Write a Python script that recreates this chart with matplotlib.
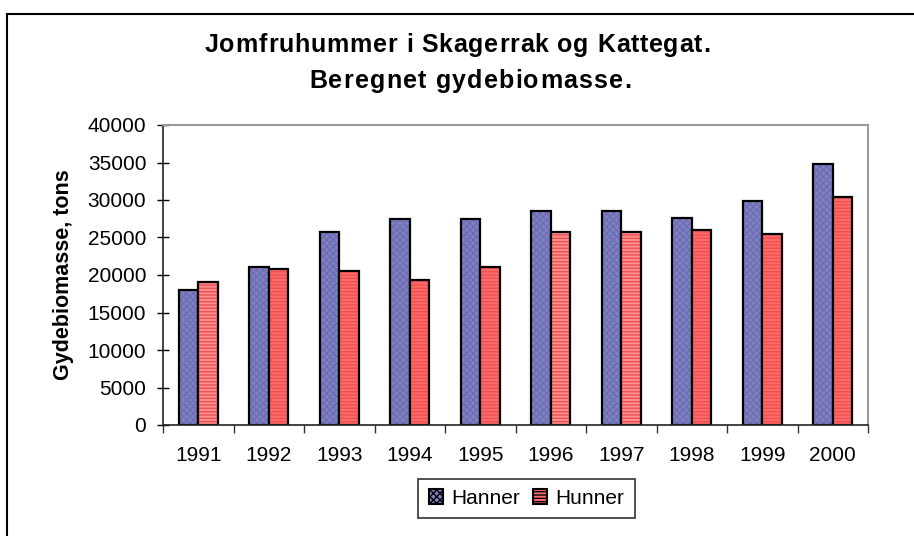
import matplotlib
matplotlib.use('Agg')
import matplotlib.pyplot as plt
import numpy as np
from matplotlib.patches import Patch
from matplotlib.lines import Line2D
from matplotlib.font_manager import FontProperties

plt.rcParams['font.family'] = ['Liberation Sans', 'DejaVu Sans']

# Beregnet gydebiomasse (tons) pr. aar
years = ['1991', '1992', '1993', '1994', '1995', '1996', '1997', '1998', '1999', '2000']
hanner = [18050, 21060, 25670, 27400, 27400, 28470, 28470, 27620, 29840, 34810]
hunner = [19110, 20750, 20480, 19380, 21060, 25670, 25670, 26030, 25450, 30370]

blue = '#8080c4'
blue_hatch = '#6e6eb2'
red = '#ff6b6b'
red_light = '#ff9090'
red_hatch = '#f05050'
# lysere roede soejler for enkelte aar
hunner_fill = [red_light, red, red, red, red, red_light, red_light, red, red, red]

W, H = 914, 536
fig = plt.figure(figsize=(W / 100, H / 100), dpi=100)
ax = fig.add_axes([163 / W, 1 - 425 / H, 705 / W, 300 / H])


def spaced_title(text, x_px, y_px, size, spacing_px):
    # tegn teksten bogstav for bogstav med ekstra afstand, centreret om x_px
    renderer = fig.canvas.get_renderer()
    fp = FontProperties(family='Liberation Sans', weight='bold', size=size)

    def width(s):
        if not s:
            return 0.0
        w, _, _ = renderer.get_text_width_height_descent(s, fp, ismath=False)
        return w

    total = width(text) + spacing_px * (len(text) - 1)
    x0 = x_px - total / 2
    for i, ch in enumerate(text):
        xp = x0 + width(text[:i]) + spacing_px * i
        fig.text(xp / W, 1 - y_px / H, ch, ha='left', va='center', fontproperties=fp)


x = np.arange(len(years))
w = 0.28

# fyld med moenster, derefter sort kant ovenpaa
ax.bar(x - w / 2, hanner, w, color=blue, hatch='xxxxx', edgecolor=blue_hatch, linewidth=0)
ax.bar(x - w / 2, hanner, w, fill=False, edgecolor='black', linewidth=1.6)
for i in range(len(years)):
    ax.bar(x[i] + w / 2, hunner[i], w, color=hunner_fill[i], hatch='-----', edgecolor=red_hatch, linewidth=0)
ax.bar(x + w / 2, hunner, w, fill=False, edgecolor='black', linewidth=1.6)

ax.set_xlim(-0.5, len(years) - 0.5)
ax.set_ylim(0, 40000)
ax.set_yticks(np.arange(0, 40001, 5000))
ax.set_xticks(x)
ax.set_xticklabels(years)
ax.set_xticks(np.arange(-0.5, len(years)), minor=True)
ax.tick_params(axis='x', which='major', length=0, pad=15, labelsize=15)
ax.tick_params(axis='x', which='minor', length=6, width=1, color='#333333', direction='out')
ax.tick_params(axis='y', length=8, width=1, direction='inout', pad=8, labelsize=15)

for s in ['top', 'right']:
    ax.spines[s].set_color('#999999')
    ax.spines[s].set_linewidth(1.5)
for s in ['left', 'bottom']:
    ax.spines[s].set_color('#222222')
    ax.spines[s].set_linewidth(1.2)

ax.set_ylabel('Gydebiomasse, tons', fontsize=15.5, fontweight='bold', labelpad=10)

spaced_title('Jomfruhummer i Skagerrak og Kattegat.', 457.5, 45, 18, 0.8)
spaced_title('Beregnet gydebiomasse.', 470, 81, 18, 1.2)

handles = [Patch(facecolor=blue, edgecolor='black', hatch='xxxxx', linewidth=1.5, label='Hanner'),
           Patch(facecolor=red, edgecolor='black', hatch='-----', linewidth=1.5, label='Hunner')]
leg = fig.legend(handles=handles, loc='center', bbox_to_anchor=(526.5 / W, 1 - 498.5 / H), ncol=2,
                 fontsize=15, frameon=True, fancybox=False, handlelength=0.7, handleheight=0.7,
                 handletextpad=0.4, columnspacing=0.6, borderpad=0.5)
leg.get_frame().set_edgecolor('black')
leg.get_frame().set_linewidth(1.2)

# ramme om hele figuren (venstre og top)
fig.add_artist(Line2D([7 / W, 7 / W], [0, 1 - 14 / H], color='black', linewidth=1.5,
                      transform=fig.transFigure))
fig.add_artist(Line2D([7 / W, 1], [1 - 14 / H, 1 - 14 / H], color='black', linewidth=1.5,
                      transform=fig.transFigure))

fig.savefig('out.png', dpi=100)
